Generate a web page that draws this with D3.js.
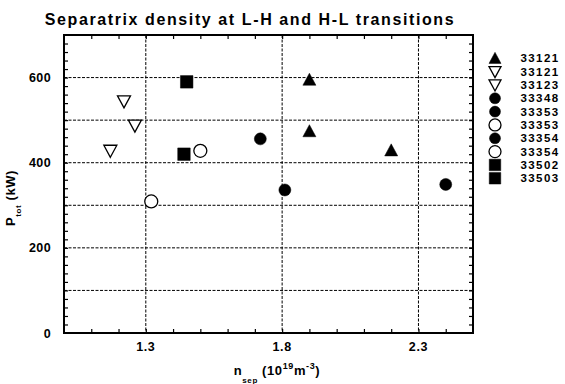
<!DOCTYPE html>
<html>
<head>
<meta charset="utf-8">
<script src="https://cdn.jsdelivr.net/npm/d3@7"></script>
<style>
  html, body { margin: 0; padding: 0; background: #fff; }
  svg { display: block; }
  text { font-family: "Liberation Sans", Arial, Helvetica, sans-serif; fill: #000; }
</style>
</head>
<body>
<svg id="chart" width="565" height="384"></svg>
<script>
// Shots, marker style and measured points (n_sep in 1e19 m^-3, P_tot in kW)
const shots   = ["33121", "33121", "33123", "33348", "33353", "33353", "33354", "33354", "33502", "33503"];
const symbols = ["triangle-up", "triangle-down", "triangle-down", "circle", "circle", "circle", "circle", "circle", "square", "square"];
const filled  = [true, false, false, true, true, false, true, false, true, true];
const nSep = [[1.90, 1.90, 2.20], [1.22, 1.17], [1.26], [1.72], [1.81], [1.32], [2.40], [1.50], [1.45], [1.44]];
const pTot = [[595, 474, 429], [544, 428], [487], [456], [336], [309], [349], [428], [590], [420]];

const xTickLabels = [1.3, 1.8, 2.3];
const yTickLabels = [0, 200, 400, 600];
const yGrid = [100, 200, 300, 400, 500, 600];

const svg = d3.select("#chart");
const plotL = 64, plotR = 473, plotT = 35, plotB = 333;

const x = d3.scaleLinear().domain([1.0, 2.5]).range([plotL, plotR]);
const y = d3.scaleLinear().domain([0, 700]).range([plotB, plotT]);

// Title
svg.append("text")
  .attr("x", 250).attr("y", 25)
  .attr("text-anchor", "middle")
  .attr("font-size", 16).attr("font-weight", "bold")
  .attr("letter-spacing", 1.6)
  .text("Separatrix density at L-H and H-L transitions");

// Grid lines
const grid = svg.append("g")
  .attr("stroke", "#000").attr("stroke-width", 1)
  .attr("stroke-dasharray", "3,1.5");
grid.selectAll("line.h").data(yGrid).join("line")
  .attr("class", "h")
  .attr("x1", plotL).attr("x2", plotR)
  .attr("y1", d => y(d)).attr("y2", d => y(d));
grid.selectAll("line.v").data(xTickLabels).join("line")
  .attr("class", "v")
  .attr("x1", d => x(d)).attr("x2", d => x(d))
  .attr("y1", plotT).attr("y2", plotB);

// Minor ticks on all four sides, pointing inward
const tickLen = 4;
const xMinor = d3.range(11, 25).map(v => v / 10);
const yMinor = d3.range(20, 700, 20);

const axB = d3.axisBottom(x).tickValues(xMinor).tickSize(-tickLen).tickFormat("");
const axT = d3.axisTop(x).tickValues(xMinor).tickSize(-tickLen).tickFormat("");
const axL = d3.axisLeft(y).tickValues(yMinor).tickSize(-tickLen).tickFormat("");
const axR = d3.axisRight(y).tickValues(yMinor).tickSize(-tickLen).tickFormat("");

[[axB, `translate(0,${plotB})`], [axT, `translate(0,${plotT})`],
 [axL, `translate(${plotL},0)`], [axR, `translate(${plotR},0)`]].forEach(([ax, tr]) => {
  const g = svg.append("g").attr("transform", tr).call(ax);
  g.select(".domain").remove();
  g.selectAll(".tick line").attr("stroke", "#000").attr("stroke-width", 1.2);
});

// Frame
svg.append("rect")
  .attr("x", plotL).attr("y", plotT)
  .attr("width", plotR - plotL).attr("height", plotB - plotT)
  .attr("fill", "none").attr("stroke", "#000").attr("stroke-width", 2);

// Tick labels
svg.selectAll("text.xt").data(xTickLabels).join("text")
  .attr("class", "xt")
  .attr("x", d => x(d)).attr("y", 351)
  .attr("text-anchor", "middle").attr("font-size", 12.5)
  .attr("font-weight", "bold").attr("letter-spacing", 0.6)
  .text(d => d3.format(".1f")(d));

svg.selectAll("text.yt").data(yTickLabels).join("text")
  .attr("class", "yt")
  .attr("x", 51).attr("y", d => y(d) + 4.5)
  .attr("text-anchor", "end").attr("font-size", 12.5)
  .attr("font-weight", "bold").attr("letter-spacing", 0.4)
  .text(d => d);

// Axis titles
const xl = svg.append("text")
  .attr("x", 277).attr("y", 375)
  .attr("text-anchor", "middle").attr("font-size", 13)
  .attr("font-weight", "bold").attr("letter-spacing", 0.6);
xl.append("tspan").text("n");
xl.append("tspan").attr("font-size", 8).attr("dy", 8).text("sep");
xl.append("tspan").attr("dy", -8).text("  (10");
xl.append("tspan").attr("font-size", 9).attr("dy", -6).text("19");
xl.append("tspan").attr("dy", 6).text("m");
xl.append("tspan").attr("font-size", 9).attr("dy", -6).text("-3");
xl.append("tspan").attr("dy", 6).text(")");

const yl = svg.append("text")
  .attr("transform", "translate(15,198) rotate(-90)")
  .attr("text-anchor", "middle").attr("font-size", 13)
  .attr("font-weight", "bold").attr("letter-spacing", 0.6);
yl.append("tspan").text("P");
yl.append("tspan").attr("font-size", 8).attr("dy", 6).text("tot");
yl.append("tspan").attr("dy", -6).text(" (kW)");

// Marker shapes
function markerPath(kind, s) {
  const h = s / 2;
  if (kind === "triangle-up") return `M0,${-h}L${h},${h * 0.85}L${-h},${h * 0.85}Z`;
  if (kind === "triangle-down") return `M0,${h}L${h},${-h * 0.85}L${-h},${-h * 0.85}Z`;
  if (kind === "square") return `M${-h},${-h}H${h}V${h}H${-h}Z`;
  return d3.arc()({ innerRadius: 0, outerRadius: h, startAngle: 0, endAngle: 2 * Math.PI });
}
function markerSize(kind, isFilled) {
  if (kind === "circle") return isFilled ? 12 : 13;
  if (kind === "square") return 12.5;
  return 13;
}

// Data points
shots.forEach((shot, i) => {
  const pts = nSep[i].map((n, j) => [n, pTot[i][j]]);
  svg.append("g").selectAll("path").data(pts).join("path")
    .attr("transform", d => `translate(${x(d[0])},${y(d[1])})`)
    .attr("d", markerPath(symbols[i], markerSize(symbols[i], filled[i])))
    .attr("fill", filled[i] ? "#000" : "#fff")
    .attr("stroke", "#000").attr("stroke-width", filled[i] ? 0.5 : 1.3);
});

// Legend
const legend = svg.append("g");
shots.forEach((shot, i) => {
  const ly = 58.3 + i * 13.33;
  legend.append("path")
    .attr("transform", `translate(495,${ly})`)
    .attr("d", markerPath(symbols[i], markerSize(symbols[i], filled[i]) - 1))
    .attr("fill", filled[i] ? "#000" : "#fff")
    .attr("stroke", "#000").attr("stroke-width", filled[i] ? 0.5 : 1.3);
  legend.append("text")
    .attr("x", 520.5).attr("y", ly + 4)
    .attr("font-size", 11.5).attr("font-weight", "bold")
    .attr("letter-spacing", 1.4)
    .text(shot);
});
</script>
</body>
</html>
